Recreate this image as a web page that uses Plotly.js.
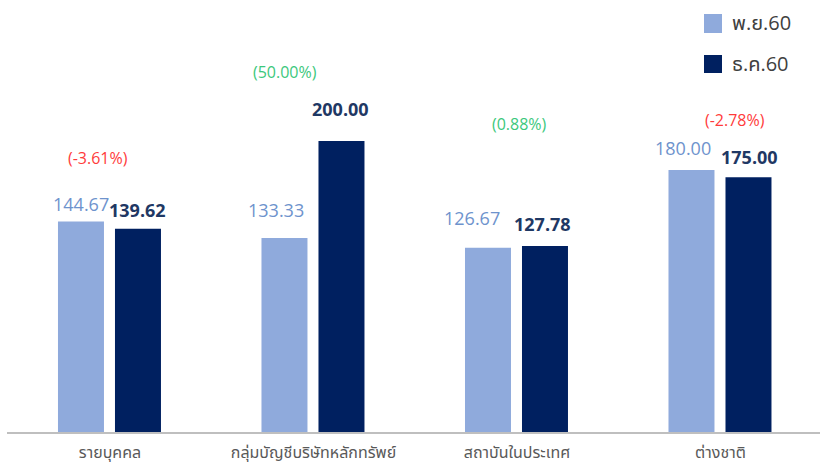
<!DOCTYPE html>
<html>
<head>
<meta charset="utf-8">
<script src="https://cdn.plot.ly/plotly-3.0.1.min.js"></script>
<style>html,body{margin:0;padding:0;background:#fff;}#chart{width:820px;height:466px;}</style>
</head>
<body>
<div id="chart"></div>
<script>
// ---- data ----
const categories = ["รายบุคคล", "กลุ่มบัญชีบริษัทหลักทรัพย์", "สถาบันในประเทศ", "ต่างชาติ"];
const seriesNames = ["พ.ย.60", "ธ.ค.60"];
const novValues = [144.67, 133.33, 126.67, 180.00];
const decValues = [139.62, 200.00, 127.78, 175.00];
const changeLabels = ["(-3.61%)", "(50.00%)", "(0.88%)", "(-2.78%)"];
const changeIsUp = [false, true, true, false];

// ---- styles / label placement (pixels) ----
const novColor = "#8faadc", decColor = "#002060";
const novLabelColor = "#6e93cd", decLabelColor = "#1f3864";
const upColor = "#3cc87c", downColor = "#ff3b3b";
const barW = 0.226, novOffset = -0.2555, decOffset = 0.0246;
const pxPerUnitX = 203.5;
const novLabelDx = [0, -8, -16, -8], novLabelDy = [18, 28, 30, 22];
const decLabelDx = [0, -1, -2, 1], decLabelDy = [19, 32, 22, 20];
const changeDx = [-11.5, -28.5, 2.5, 15], changeDy = [64, 69, 122, 50];

const xIdx = categories.map((c, i) => i);
const fontFam = "Open Sans, Noto Sans, Noto Sans Thai, sans-serif";

const traces = [
  {type: "bar", x: xIdx, y: novValues, name: seriesNames[0], width: barW, offset: novOffset,
   marker: {color: novColor}, hoverinfo: "y"},
  {type: "bar", x: xIdx, y: decValues, name: seriesNames[1], width: barW, offset: decOffset,
   marker: {color: decColor}, hoverinfo: "y"}
];

const annotations = [];
const novCenterPx = (novOffset + barW / 2) * pxPerUnitX;
const decCenterPx = (decOffset + barW / 2) * pxPerUnitX;
xIdx.forEach(i => {
  annotations.push({x: i, y: novValues[i], xref: "x", yref: "y", text: novValues[i].toFixed(2),
    showarrow: false, xanchor: "center", yanchor: "middle",
    xshift: novCenterPx + novLabelDx[i], yshift: novLabelDy[i],
    font: {family: fontFam, size: 18, color: novLabelColor}});
  annotations.push({x: i, y: decValues[i], xref: "x", yref: "y", text: "<b>" + decValues[i].toFixed(2) + "</b>",
    showarrow: false, xanchor: "center", yanchor: "middle",
    xshift: decCenterPx + decLabelDx[i], yshift: decLabelDy[i],
    font: {family: fontFam, size: 18, color: decLabelColor}});
  annotations.push({x: i, y: Math.max(novValues[i], decValues[i]), xref: "x", yref: "y", text: changeLabels[i],
    showarrow: false, xanchor: "center", yanchor: "middle",
    xshift: changeDx[i], yshift: changeDy[i],
    font: {family: fontFam, size: 16, color: changeIsUp[i] ? upColor : downColor}});
});

// legend (manual, to match large square swatches)
const plotW = 813, plotH = 432, plotL = 7;
const px2x = p => (p - plotL) / plotW, px2y = p => (plotH - p) / plotH;
const shapes = [
  {type: "rect", xref: "paper", yref: "paper", x0: px2x(704), x1: px2x(722), y0: px2y(33), y1: px2y(14),
   fillcolor: novColor, line: {width: 0}},
  {type: "rect", xref: "paper", yref: "paper", x0: px2x(704), x1: px2x(722), y0: px2y(73), y1: px2y(55),
   fillcolor: decColor, line: {width: 0}}
];
annotations.push({xref: "paper", yref: "paper", x: px2x(730), y: px2y(23), text: seriesNames[0], showarrow: false,
  xanchor: "left", yanchor: "middle", font: {family: fontFam, size: 20, color: "#404040"}});
annotations.push({xref: "paper", yref: "paper", x: px2x(730), y: px2y(63), text: seriesNames[1], showarrow: false,
  xanchor: "left", yanchor: "middle", font: {family: fontFam, size: 20, color: "#404040"}});

const layout = {
  width: 820, height: 466,
  margin: {l: 7, r: 0, t: 0, b: 34},
  paper_bgcolor: "#ffffff", plot_bgcolor: "#ffffff",
  showlegend: false,
  barmode: "group",
  xaxis: {range: [-0.506, 3.489], tickmode: "array", tickvals: xIdx, ticktext: categories,
    showline: true, linecolor: "#bfbfbf", linewidth: 2, showgrid: false, zeroline: false, ticks: "",
    ticklabelstandoff: 5,
    tickfont: {family: fontFam, size: 16, color: "#595959"}, fixedrange: true},
  yaxis: {range: [0, 296.9], visible: false, showgrid: false, zeroline: false, fixedrange: true},
  annotations: annotations,
  shapes: shapes,
  font: {family: fontFam}
};

Plotly.newPlot("chart", traces, layout, {displayModeBar: false, staticPlot: true});
</script>
</body>
</html>
